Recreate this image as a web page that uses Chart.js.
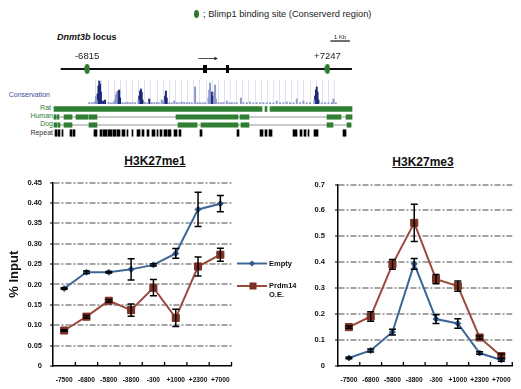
<!DOCTYPE html>
<html>
<head>
<meta charset="utf-8">
<script src="https://cdn.jsdelivr.net/npm/chart.js@4.4.1/dist/chart.umd.min.js"></script>
<style>
  html,body{margin:0;padding:0;background:#fff;}
  #wrap{position:relative;width:521px;height:389px;overflow:hidden;background:#fff;}
  canvas{position:absolute;}
  .t{position:absolute;white-space:nowrap;line-height:1;font-family:"Liberation Sans",Arial,sans-serif;color:#111;}
</style>
</head>
<body>
<div id="wrap">
  <div style="position:absolute;left:194px;top:10px;width:5px;height:8px;border-radius:50%;background:#2e7a30;"></div>
  <div class="t" style="left:203px;top:9.5px;font-size:9.3px;color:#222;">; Blimp1 binding site (Conserverd region)</div>
  <div class="t" style="left:57px;top:33px;font-size:9px;font-weight:bold;"><i>Dnmt3b</i> locus</div>

  <div class="t" style="right:471px;top:90.5px;font-size:7px;color:#3a4a9a;">Conservation</div>
  <div class="t" style="right:470px;top:103.5px;font-size:7px;color:#2f7f33;">Rat</div>
  <div class="t" style="right:468px;top:111.5px;font-size:7px;color:#2f7f33;">Human</div>
  <div class="t" style="right:468px;top:119.5px;font-size:7px;color:#2f7f33;">Dog</div>
  <div class="t" style="right:468px;top:128.5px;font-size:7px;color:#333;">Repeat</div>

  <canvas id="locus" width="521" height="78" style="left:0;top:30px;"></canvas>
  <canvas id="cons" width="521" height="25" style="left:0;top:79px;"></canvas>
  <canvas id="tracks" width="521" height="32" style="left:0;top:105px;"></canvas>

  <div class="t" style="left:155px;top:155px;transform:translateX(-50%);font-size:12px;font-weight:bold;text-decoration:underline;">H3K27me1</div>
  <div class="t" style="left:423px;top:156px;transform:translateX(-50%);font-size:12px;font-weight:bold;text-decoration:underline;">H3K27me3</div>

  <canvas id="me1" width="240" height="219" style="left:0;top:170px;"></canvas>
  <canvas id="me3" width="236" height="219" style="left:285px;top:170px;"></canvas>

  <svg style="position:absolute;left:236px;top:255px;" width="34" height="40">
    <line x1="1" y1="8.5" x2="31" y2="8.5" stroke="#3d6596" stroke-width="2"/>
    <polygon points="16,5.5 19,8.5 16,11.5 13,8.5" fill="#2c5a8c"/>
    <line x1="1" y1="31" x2="31" y2="31" stroke="#9b4a3c" stroke-width="2"/>
    <rect x="13.5" y="27.5" width="7" height="7" fill="#7c2f24"/>
  </svg>
  <div class="t" style="left:269px;top:260px;font-size:7.5px;font-weight:bold;">Empty</div>
  <div class="t" style="left:269px;top:282px;font-size:7.5px;font-weight:bold;line-height:1.15;">Prdm14<br>O.E.</div>
</div>

<script>
// ---------------- DATA ----------------
// ChIP positions (bp relative to TSS)
const positions = ['-7500', '-6800', '-5800', '-3800', '-300', '+1000', '+2300', '+7000'];

// H3K27me1 (% input)
const me1Empty    = [0.190, 0.230, 0.230, 0.237, 0.248, 0.276, 0.384, 0.398];
const me1EmptyErr = [0.002, 0.003, 0.002, 0.026, 0.003, 0.012, 0.042, 0.020];
const me1Prdm     = [0.087, 0.121, 0.160, 0.137, 0.192, 0.118, 0.244, 0.273];
const me1PrdmErr  = [0.002, 0.003, 0.003, 0.015, 0.020, 0.021, 0.023, 0.016];

// H3K27me3 (% input)
const me3Empty    = [0.031, 0.060, 0.131, 0.394, 0.181, 0.164, 0.050, 0.023];
const me3EmptyErr = [0.003, 0.006, 0.011, 0.021, 0.017, 0.018, 0.005, 0.005];
const me3Prdm     = [0.150, 0.191, 0.392, 0.552, 0.335, 0.308, 0.110, 0.038];
const me3PrdmErr  = [0.004, 0.018, 0.019, 0.072, 0.018, 0.020, 0.006, 0.008];

const me1Ticks = { max: 0.45, step: 0.05 };
const me3Ticks = { max: 0.7, step: 0.1 };

// Locus diagram (kb relative to TSS)
const locusSpan = [-8.36, 8.68];
const bindingSites = [-6.815, 7.247];
const bindingSiteLabels = ['-6815', '+7247'];
const exons = [0.10, 1.42];
const tssArrow = [-0.30, 0.84];
const scaleBar = [7.42, 8.56];
const scaleBarLabel = '1 Kb';

// Conservation track (kb, score 0..1)
const conservationDark = [
  [-7.844,0.40],[-7.786,0.72],[-7.729,0.92],[-7.672,0.80],[-7.615,0.48],[-7.558,0.12],
  [-7.443,0.12],[-7.329,0.16],
  [-6.472,0.40],[-6.415,0.52],[-6.357,0.56],[-6.300,0.24],
  [-4.986,0.32],[-4.928,0.52],[-4.871,0.60],[-4.814,0.48],[-4.757,0.16],
  [-4.300,0.20],
  [-3.214,0.32],[-3.157,0.52],[-3.100,0.24],
  [-0.070,0.40],[-0.013,0.48],[0.044,0.32],
  [7.075,0.32],[7.132,0.56],[7.189,0.68],[7.247,0.48],[7.304,0.16]
];
const conservationLight = [
  [-7.958,0.32],[-7.901,0.16],[-6.643,0.16],[-6.586,0.36],[-6.529,0.48],[-5.043,0.16],
  [-3.443,0.16],[-3.328,0.12],[-2.585,0.12],[-2.071,0.08],[-1.156,0.68],[-0.241,0.24],
  [-0.184,0.56],[-0.127,0.84],[0.159,0.48],[0.216,0.76],[0.273,0.20],[1.016,0.12],
  [1.987,0.24],[2.617,0.08],[4.446,0.12],[5.132,0.08],[5.818,0.20],[6.275,0.12],
  [7.018,0.16],[8.333,0.20],
  [-8.415,0.06],[-8.244,0.05],[-8.072,0.08],[-7.101,0.06],[-6.929,0.05],[-6.758,0.08],
  [-6.129,0.06],[-5.957,0.05],[-5.786,0.07],[-5.615,0.05],[-5.443,0.06],[-5.272,0.05],
  [-4.586,0.06],[-4.414,0.05],[-4.128,0.06],[-3.957,0.05],[-3.785,0.07],[-3.614,0.05],
  [-2.928,0.06],[-2.757,0.05],[-2.414,0.06],[-2.242,0.05],[-1.899,0.06],[-1.728,0.05],
  [-1.556,0.06],[-1.385,0.05],[-0.984,0.06],[-0.813,0.05],[-0.641,0.06],[-0.470,0.05],
  [0.445,0.06],[0.616,0.05],[0.788,0.06],[1.187,0.05],[1.359,0.06],[1.530,0.05],
  [1.702,0.06],[2.159,0.05],[2.388,0.06],[2.845,0.05],[3.074,0.06],[3.303,0.05],
  [3.531,0.06],[3.760,0.05],[3.989,0.06],[4.217,0.05],[4.675,0.06],[4.903,0.05],
  [5.361,0.06],[5.589,0.05],[6.047,0.06],[6.504,0.05],[6.732,0.06],[7.533,0.05],
  [7.761,0.06],[7.990,0.05],[8.219,0.06],[8.504,0.05]
];
const conservationRange = [-8.0, 8.56];

// Aligned / repeat segments (kb start, kb end)
const trackRows = ['Rat', 'Human', 'Dog', 'Repeat'];
const ratSegments = [[-8.472,3.417],[3.588,3.703],[3.875,8.561]];
const humanSegments = [[-8.472,-8.358],[-8.301,-8.187],[-7.901,-7.443],[-7.215,-6.529],[-6.472,-6.015],
  [-1.499,2.045],[2.159,2.673],[7.132,7.932],[8.218,8.561]];
const dogSegments = [[-8.472,-8.301],[-8.244,-8.130],[-7.901,-7.443],[-6.472,-6.015],[-1.385,-0.298],
  [-0.070,2.045],[2.216,2.673],[7.132,7.475],[8.275,8.504]];
const repeatSegments = [[-8.415,-8.301],[-8.244,-8.130],[-8.015,-7.958],[-7.558,-7.443],[-7.386,-7.272],
  [-6.186,-6.015],[-5.843,-5.729],[-5.672,-5.443],[-5.386,-5.157],[-5.100,-4.928],[-4.871,-4.700],
  [-4.586,-4.414],[-4.300,-4.243],[-4.014,-3.957],[-3.728,-3.557],[-3.443,-3.328],[-3.157,-3.042],
  [-2.871,-2.699],[-2.585,-2.528],[-2.414,-2.299],[-2.185,-2.013],[-1.956,-1.785],[-1.613,-1.442],
  [-1.327,-1.213],[-0.127,-0.013],[1.988,2.102],[3.303,3.474],[3.588,3.703],[3.817,3.989],
  [5.189,5.418],[5.589,5.703],[5.818,5.932],[6.047,6.104],[6.390,6.619],[8.047,8.218]];
const alignedSpan = [-8.472, 8.561];

// ---------------- STYLE / CHARTS ----------------
Chart.defaults.font.family = '"Liberation Sans", Arial, sans-serif';
Chart.defaults.color = '#111';
const VIEW = { min: -11.559, max: 18.221 }; // shared genomic x range for the top panel
const GREEN = '#2f7f33';

function makeImg(w, h, draw) {
  const c = document.createElement('canvas'); c.width = w; c.height = h;
  draw(c.getContext('2d')); return c;
}
const ovalImg = makeImg(6, 10, g => { g.fillStyle = '#2e7a30'; g.beginPath(); g.ellipse(3, 5, 2.7, 4.9, 0, 0, Math.PI * 2); g.fill(); });
const exonImgs = [makeImg(4, 8, g => { g.fillStyle = '#000'; g.fillRect(0, 0, 4, 8); }),
                  makeImg(3, 8, g => { g.fillStyle = '#000'; g.fillRect(0, 0, 3, 8); })];

const hiddenLinear = (min, max) => ({ type: 'linear', display: false, min, max });

// Locus line chart
const locusDecor = {
  id: 'locusDecor',
  afterDatasetsDraw(chart) {
    const { ctx, scales: { x, y } } = chart;
    const y0 = y.getPixelForValue(0);
    ctx.save();
    const a1 = x.getPixelForValue(tssArrow[0]), a2 = x.getPixelForValue(tssArrow[1]);
    const ay = y0 - 10.5;
    ctx.strokeStyle = '#222'; ctx.fillStyle = '#222'; ctx.lineWidth = 0.8;
    ctx.beginPath(); ctx.moveTo(a1, ay); ctx.lineTo(a2 - 2, ay); ctx.stroke();
    ctx.beginPath(); ctx.moveTo(a2, ay); ctx.lineTo(a2 - 3.5, ay - 1.8); ctx.lineTo(a2 - 3.5, ay + 1.8); ctx.closePath(); ctx.fill();
    ctx.font = '9.5px "Liberation Sans", Arial, sans-serif';
    ctx.textAlign = 'center'; ctx.textBaseline = 'middle'; ctx.fillStyle = '#222';
    bindingSites.forEach((b, i) => ctx.fillText(bindingSiteLabels[i], x.getPixelForValue(b), y0 - 12.3));
    const s1 = x.getPixelForValue(scaleBar[0]), s2 = x.getPixelForValue(scaleBar[1]);
    ctx.lineWidth = 1.3; ctx.strokeStyle = '#222';
    ctx.beginPath(); ctx.moveTo(s1, y0 - 28); ctx.lineTo(s2, y0 - 28); ctx.stroke();
    ctx.font = '6px "Liberation Sans", Arial, sans-serif';
    ctx.fillText(scaleBarLabel, (s1 + s2) / 2, y0 - 32);
    ctx.restore();
  }
};
new Chart(document.getElementById('locus'), {
  type: 'scatter',
  data: {
    datasets: [
      { type: 'line', data: locusSpan.map(v => ({ x: v, y: 0 })), borderColor: '#111', borderWidth: 2, pointRadius: 0, order: 3 },
      { data: exons.map(v => ({ x: v, y: 0 })), pointStyle: exonImgs, pointRadius: 4, order: 2 },
      { data: bindingSites.map(v => ({ x: v, y: 0 })), pointStyle: ovalImg, pointRadius: 5, order: 1 }
    ]
  },
  options: {
    responsive: false, animation: false, events: [],
    layout: { padding: 0 },
    plugins: { legend: { display: false }, tooltip: { enabled: false } },
    scales: { x: hiddenLinear(VIEW.min, VIEW.max), y: hiddenLinear(-1, 1) }
  },
  plugins: [locusDecor]
});

// Conservation track
const consGrid = {
  id: 'consGrid',
  beforeDatasetsDraw(chart) {
    const { ctx, chartArea, scales: { x } } = chart;
    ctx.save(); ctx.strokeStyle = '#dfe3f1'; ctx.lineWidth = 1;
    for (let k = conservationRange[0]; k <= conservationRange[1]; k += 0.42) {
      const px = Math.round(x.getPixelForValue(k)) + 0.5;
      ctx.beginPath(); ctx.moveTo(px, chartArea.top + 1); ctx.lineTo(px, chartArea.bottom); ctx.stroke();
    }
    ctx.restore();
  }
};
new Chart(document.getElementById('cons'), {
  type: 'bar',
  data: {
    datasets: [
      { data: conservationLight.map(p => ({ x: p[0], y: p[1] })), backgroundColor: '#8e98cc', barThickness: 1.3, grouped: false },
      { data: conservationDark.map(p => ({ x: p[0], y: p[1] })), backgroundColor: '#1d2a78', barThickness: 1.3, grouped: false }
    ]
  },
  options: {
    responsive: false, animation: false, events: [],
    layout: { padding: 0 },
    plugins: { legend: { display: false }, tooltip: { enabled: false } },
    scales: { x: hiddenLinear(VIEW.min, VIEW.max), y: hiddenLinear(0, 1) }
  },
  plugins: [consGrid]
});

// Rat / Human / Dog / Repeat tracks
const seg = (row, list) => list.map(s => ({ y: row, x: s }));
new Chart(document.getElementById('tracks'), {
  type: 'bar',
  data: {
    labels: trackRows,
    datasets: [
      { data: [{ y: 'Human', x: alignedSpan }, { y: 'Dog', x: alignedSpan }], backgroundColor: '#b9b9b9', barThickness: 1, grouped: false, order: 5 },
      { data: seg('Rat', ratSegments), backgroundColor: GREEN, barThickness: 5, grouped: false, order: 1 },
      { data: seg('Human', humanSegments), backgroundColor: GREEN, barThickness: 4.5, grouped: false, order: 1 },
      { data: seg('Dog', dogSegments), backgroundColor: GREEN, barThickness: 4.5, grouped: false, order: 1 },
      { data: seg('Repeat', repeatSegments), backgroundColor: '#000', barThickness: 6.5, grouped: false, order: 1 }
    ]
  },
  options: {
    indexAxis: 'y',
    responsive: false, animation: false, events: [],
    layout: { padding: 0 },
    plugins: { legend: { display: false }, tooltip: { enabled: false } },
    scales: {
      x: hiddenLinear(VIEW.min, VIEW.max),
      y: { type: 'category', display: false, labels: trackRows }
    }
  }
});

// ---------------- Main line charts ----------------
const errorBars = {
  id: 'errorBars',
  afterDatasetsDraw(chart) {
    const { ctx, scales: { x, y } } = chart;
    ctx.save();
    ctx.strokeStyle = '#000'; ctx.lineWidth = 1.5;
    chart.data.datasets.forEach((ds, i) => {
      if (!ds.errors) return;
      const meta = chart.getDatasetMeta(i);
      meta.data.forEach((pt, j) => {
        const v = ds.data[j], e = ds.errors[j];
        const yt = y.getPixelForValue(v + e), yb = y.getPixelForValue(v - e);
        const px = pt.x;
        ctx.beginPath();
        ctx.moveTo(px, yt); ctx.lineTo(px, yb);
        ctx.moveTo(px - 3.5, yt); ctx.lineTo(px + 3.5, yt);
        ctx.moveTo(px - 3.5, yb); ctx.lineTo(px + 3.5, yb);
        ctx.stroke();
      });
    });
    ctx.lineWidth = 1.3;
    for (let i = 0; i < chart.data.labels.length; i++) {
      const px = x.getPixelForValue(i + 0.5);
      ctx.beginPath(); ctx.moveTo(px, x.top); ctx.lineTo(px, x.top - 4); ctx.stroke();
    }
    ctx.restore();
  }
};

function lineChart(id, yCfg, empty, emptyErr, prdm, prdmErr, yTitle, tickPad, padTop, padRight) {
  return new Chart(document.getElementById(id), {
    type: 'line',
    data: {
      labels: positions,
      datasets: [
        { label: 'Empty', data: empty, errors: emptyErr, borderColor: '#3d6596', borderWidth: 2,
          pointStyle: 'rectRot', pointRadius: 3, pointBackgroundColor: '#2c5a8c', pointBorderColor: '#2c5a8c', pointBorderWidth: 1 },
        { label: 'Prdm14 O.E.', data: prdm, errors: prdmErr, borderColor: '#9b4a3c', borderWidth: 2,
          pointStyle: 'rect', pointRadius: 5, pointBackgroundColor: '#7c2f24', pointBorderColor: '#7c2f24', pointBorderWidth: 1 }
      ]
    },
    options: {
      responsive: false, animation: false, events: [],
      layout: { padding: { top: padTop, right: padRight, left: 0, bottom: 0 } },
      plugins: { legend: { display: false }, tooltip: { enabled: false } },
      scales: {
        x: {
          type: 'category', offset: true,
          grid: { display: false, drawTicks: false },
          border: { display: true, color: '#000', width: 1.5 },
          ticks: { font: { size: 6.6, weight: 'bold' }, color: '#111', padding: 10, maxRotation: 0, autoSkip: false },
          afterFit: s => { s.height = 23; }
        },
        y: {
          min: 0, max: yCfg.max,
          grid: {
            color: c => (c.tick && c.tick.value === 0) ? 'rgba(0,0,0,0)' : '#a4a4a4',
            lineWidth: 2, drawTicks: true, tickLength: 3, tickColor: '#000', tickWidth: 1
          },
          border: { display: true, color: '#000', width: 1.5, dash: [6, 2, 2, 2] },
          ticks: { stepSize: yCfg.step, font: { size: 7.5, weight: 'bold' }, color: '#111', padding: tickPad },
          title: yTitle ? { display: true, text: yTitle, font: { size: 13, weight: 'bold' }, color: '#111', padding: { top: 7, bottom: 0 } } : { display: false },
          afterFit: s => { s.width = 53; }
        }
      }
    },
    plugins: [errorBars]
  });
}

lineChart('me1', me1Ticks, me1Empty, me1EmptyErr, me1Prdm, me1PrdmErr, '% Input', 8, 8, 5);
lineChart('me3', me3Ticks, me3Empty, me3EmptyErr, me3Prdm, me3PrdmErr, null, 10, 9, 1);
</script>
</body>
</html>
